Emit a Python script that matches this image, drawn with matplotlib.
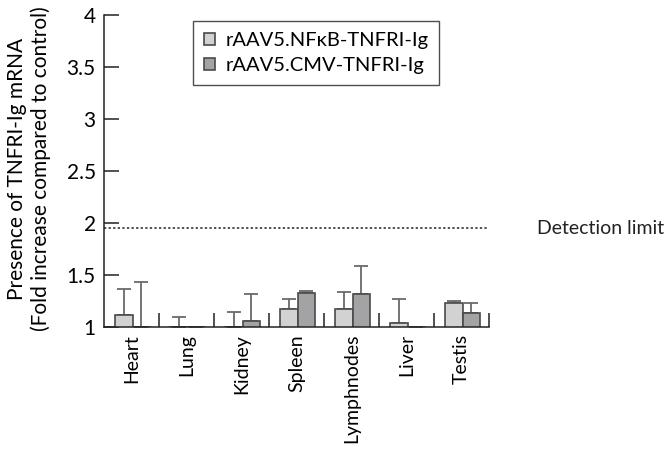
import matplotlib
matplotlib.use("Agg")
import matplotlib.pyplot as plt
import numpy as np

plt.rcParams["font.family"] = ["Lato", "DejaVu Sans"]

# data
tissues = ["Heart", "Lung", "Kidney", "Spleen", "Lymphnodes", "Liver", "Testis"]
nfkb = [1.12, 1.00, 1.00, 1.17, 1.17, 1.04, 1.23]
nfkb_err = [0.245, 0.10, 0.14, 0.10, 0.17, 0.23, 0.02]
cmv = [1.00, 1.00, 1.06, 1.33, 1.32, 1.00, 1.13]
cmv_err = [0.43, np.nan, 0.26, 0.02, 0.27, np.nan, 0.10]
detection_limit = 1.95

light = "#d2d2d2"
dark = "#a3a3a5"
edge = "#4a4a4a"

fig = plt.figure(figsize=(6.68, 4.5), dpi=100)
ax = fig.add_axes([104 / 668, 1 - 327 / 450, 385 / 668, 312 / 450])

x = np.arange(len(tissues))
w = 0.32
ax.bar(x - 0.14, nfkb, width=w, color=light, edgecolor=edge, linewidth=1.2,
       label="rAAV5.NF\u03baB-TNFRI-Ig", zorder=2)
ax.bar(x + 0.18, cmv, width=w, color=dark, edgecolor=edge, linewidth=1.2,
       label="rAAV5.CMV-TNFRI-Ig", zorder=2)
ax.errorbar(x - 0.14, nfkb, yerr=[np.zeros(len(x)), nfkb_err], fmt="none",
            ecolor="#6a6a6a", elinewidth=1.3, capsize=5, capthick=1.3, zorder=1)
ax.errorbar(x + 0.18, cmv, yerr=[np.zeros(len(x)), cmv_err], fmt="none",
            ecolor="#6a6a6a", elinewidth=1.3, capsize=5, capthick=1.3, zorder=1)

# detection limit line across the axes, label off to the right
ax.axhline(detection_limit, ls=(0, (1.5, 1.5)), color="#222222", lw=1.1)
ax.text(7.37, detection_limit, "Detection limit", fontsize=14, va="center",
        ha="left", color="#222222")

ax.set_xlim(-0.5, 6.5)
ax.set_ylim(1, 4)
ax.set_yticks([1, 1.5, 2, 2.5, 3, 3.5, 4])
ax.set_yticklabels(["1", "1.5", "2", "2.5", "3", "3.5", "4"])
ax.set_xticks(x)
ax.set_xticklabels(tissues, rotation=90)
ax.set_xticks(np.arange(0.5, 7, 1), minor=True)
ax.tick_params(axis="x", which="major", length=0, labelsize=14, pad=5)
ax.tick_params(axis="x", which="minor", direction="in", length=10, width=1.1,
               color="#222222")
ax.tick_params(axis="y", direction="in", length=11, width=1.1, labelsize=15,
               pad=6, color="#222222")
for s in ["top", "right"]:
    ax.spines[s].set_visible(False)
for s in ["left", "bottom"]:
    ax.spines[s].set_linewidth(1.1)
    ax.spines[s].set_color("#222222")

leg = ax.legend(loc="upper left", bbox_to_anchor=(193 / 668, 1 - 21 / 450),
                bbox_transform=fig.transFigure, fontsize=14.5, frameon=True,
                fancybox=False, edgecolor="#222222", handlelength=0.55,
                handleheight=0.55, handletextpad=0.5, borderpad=0.55,
                labelspacing=0.4, borderaxespad=0)
leg.get_frame().set_linewidth(1.0)

fig.text(29 / 668, 1 - 169 / 450,
         "Presence of TNFRI-Ig mRNA\n(Fold increase compared to control)",
         rotation=90, ha="center", va="center", fontsize=15,
         multialignment="center", linespacing=1.15)

fig.savefig("out.png", dpi=100)
